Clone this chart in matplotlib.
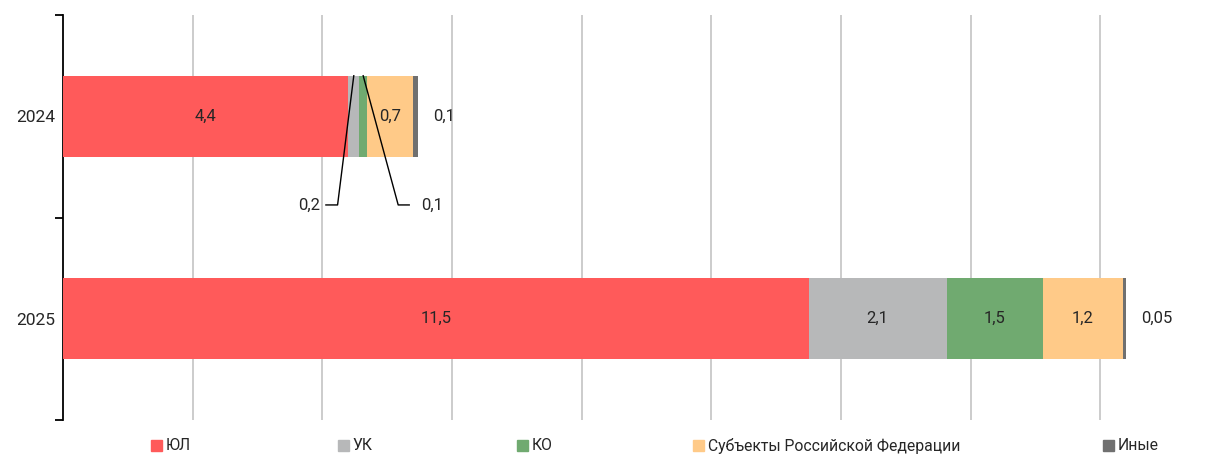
import matplotlib
matplotlib.use("Agg")
import matplotlib.pyplot as plt
from matplotlib.patches import Patch
import numpy as np

plt.rcParams['font.family'] = ['Roboto', 'DejaVu Sans']

years = ["2024", "2025"]
series = ["ЮЛ", "УК", "КО", "Субъекты Российской Федерации", "Иные"]
values = {
    "ЮЛ": [4.4, 11.5],
    "УК": [0.17, 2.13],
    "КО": [0.12, 1.48],
    "Субъекты Российской Федерации": [0.71, 1.24],
    "Иные": [0.08, 0.05],
}
labels = {
    "ЮЛ": ["4,4", "11,5"],
    "УК": ["0,2", "2,1"],
    "КО": ["0,1", "1,5"],
    "Субъекты Российской Федерации": ["0,7", "1,2"],
    "Иные": ["0,1", "0,05"],
}
colors = ["#FF5A5A", "#B7B8B9", "#70AA70", "#FFCA88", "#707070"]

W, H = 1219, 455
fig = plt.figure(figsize=(W / 100, H / 100), dpi=100)
ax = fig.add_axes([63 / W, 1 - 420 / H, 1 - 63 / W, (420 - 15) / H])

txt = "#262626"
fs = 12
y = np.arange(len(years))
bar_h = 0.4
left = np.zeros(len(years))
for s, c in zip(series, colors):
    v = np.array(values[s])
    ax.barh(y, v, left=left, height=bar_h, color=c, zorder=3)
    for i in range(len(years)):
        cx = left[i] + v[i] / 2
        if s == "Иные":
            ax.text(left[i] + v[i] + 0.23, y[i], labels[s][i], ha="left", va="center",
                    fontsize=fs, color=txt, zorder=4)
        elif i == 0 and s == "УК":
            top = y[i] - bar_h / 2
            ax.plot([cx - 0.43, cx - 0.25, cx], [0.438, 0.438, top], color="black", lw=1, zorder=4)
            ax.text(cx - 0.52, 0.438, labels[s][i], ha="right", va="center", fontsize=fs, color=txt)
        elif i == 0 and s == "КО":
            top = y[i] - bar_h / 2
            ax.plot([cx, cx + 0.54, cx + 0.71], [top, 0.438, 0.438], color="black", lw=1, zorder=4)
            ax.text(cx + 0.9, 0.438, labels[s][i], ha="left", va="center", fontsize=fs, color=txt)
        else:
            ax.text(cx, y[i], labels[s][i], ha="center", va="center", fontsize=fs, color=txt, zorder=4)
    left = left + v

ax.set_xlim(0, 17.83)
ax.set_ylim(1.5, -0.5)
ax.set_xticks(np.arange(2, 17, 2))
ax.tick_params(axis="x", length=0, labelbottom=False)
ax.grid(axis="x", color="#C8C8C8", lw=1.3, zorder=0)
ax.set_yticks(y)
ax.set_yticklabels(years, fontsize=12.5, color=txt)
ax.tick_params(axis="y", which="major", length=0, pad=5.5)
ax.set_yticks([-0.5, 0.5, 1.5], minor=True)
ax.tick_params(axis="y", which="minor", length=6, width=1.3, direction="out")
for sp in ["top", "right", "bottom"]:
    ax.spines[sp].set_visible(False)
ax.spines["left"].set_linewidth(1.3)

# legend entries placed individually
leg_x = [151, 338, 517, 693, 1103]
for s, c, lx in zip(series, colors, leg_x):
    lg = fig.legend(handles=[Patch(color=c, label=s)], loc="center left",
                    bbox_to_anchor=(lx / W, 1 - 446 / H), frameon=False,
                    handlelength=0.7, handleheight=0.7, handletextpad=0.25,
                    borderpad=0, borderaxespad=0, fontsize=11.3, labelcolor=txt)

fig.savefig("out.png", dpi=100)
